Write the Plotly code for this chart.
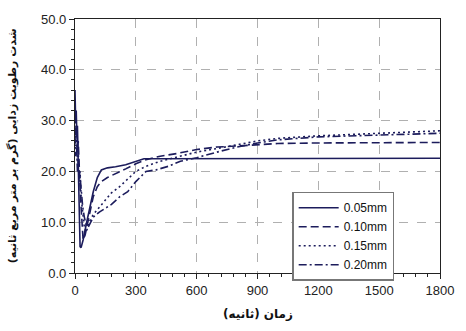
import plotly.graph_objects as go

# ---- data ----
labels = ["0.05mm", "0.10mm", "0.15mm", "0.20mm"]

t_005 = [0, 3, 6, 9, 12, 15, 18, 21, 25, 30, 40, 55, 70, 90, 110, 130, 160, 200, 250, 300, 340, 400, 600, 900, 1200, 1500, 1800]
y_005 = [36, 30, 32, 27, 29, 24, 20, 12, 5.2, 5.0, 6.5, 9.5, 12.5, 16, 18.8, 20.3, 20.7, 20.9, 21.3, 22.0, 22.5, 22.5, 22.5, 22.6, 22.6, 22.6, 22.6]

t_010 = [0, 4, 8, 12, 16, 20, 25, 30, 35, 40, 50, 60, 75, 90, 110, 130, 160, 200, 250, 300, 350, 420, 500, 600, 700, 800, 900, 1000, 1200, 1500, 1800]
y_010 = [31, 27, 29, 24, 26, 20, 17, 13, 9, 6.5, 7.5, 9.5, 12.5, 15, 17, 18, 18.8, 19.5, 20.5, 21.5, 22.3, 23, 23.5, 24.3, 24.8, 25.0, 25.3, 25.5, 25.6, 25.7, 25.7]

t_015 = [0, 4, 8, 12, 16, 20, 25, 30, 38, 46, 55, 70, 90, 120, 150, 180, 220, 260, 300, 350, 420, 500, 600, 700, 800, 900, 1000, 1200, 1500, 1800]
y_015 = [29, 25, 27, 22, 24, 19, 20, 15, 12, 9, 8, 10, 11.5, 13, 14.5, 15.8, 17, 18.5, 20, 21, 22, 22.8, 23.8, 24.5, 25.3, 26, 26.5, 27, 27.5, 28]

t_020 = [0, 4, 8, 12, 16, 20, 25, 30, 38, 46, 55, 65, 90, 120, 150, 180, 220, 260, 300, 350, 400, 460, 520, 600, 700, 800, 900, 1000, 1200, 1500, 1800]
y_020 = [27, 23, 25, 20, 22, 18, 19, 16, 13, 11, 9.5, 9, 11, 12, 12.8, 13.5, 15, 16, 18, 20, 20.3, 21, 22, 22.7, 23.8, 24.8, 25.6, 26.2, 26.8, 27.2, 27.5]

x_ticks = [0, 300, 600, 900, 1200, 1500, 1800]
y_ticks = [0, 10, 20, 30, 40, 50]
x_title = "زمان (ثانیه)"
y_title = "شدت رطوبت زدایی (گرم بر متر مربع ثانیه)"

series = [(t_005, y_005), (t_010, y_010), (t_015, y_015), (t_020, y_020)]
dashes = ["solid", "8px,4px", "2px,3px", "8px,3px,2px,3px"]
color = "#1c1c5c"

fig = go.Figure()
for (t, y), name, d in zip(series, labels, dashes):
    fig.add_trace(go.Scatter(x=t, y=y, mode="lines", name=name,
                             line=dict(color=color, width=1.6, dash=d)))

axis_common = dict(showline=True, linecolor="#222", linewidth=1.2, mirror=True,
                   ticks="outside", ticklen=5, tickcolor="#222",
                   showgrid=True, gridcolor="#b0b0b0", griddash="dash", gridwidth=1,
                   zeroline=False,
                   tickfont=dict(family="Liberation Sans, Arial", size=13, color="#222"))

fig.update_xaxes(range=[0, 1800], tickvals=x_ticks, ticktext=[str(v) for v in x_ticks],
                 minor=dict(dtick=60, ticks="outside", ticklen=3, tickcolor="#222", showgrid=False),
                 **axis_common)
fig.update_yaxes(range=[0, 50], tickvals=y_ticks, ticktext=[f"{v:.1f}" for v in y_ticks],
                 minor=dict(dtick=2, ticks="outside", ticklen=3, tickcolor="#222", showgrid=False),
                 **axis_common)

fig.add_annotation(text="<b>" + x_title + "</b>", xref="paper", yref="paper",
                   x=0.5, y=-0.125, xanchor="center", yanchor="top", showarrow=False,
                   font=dict(family="DejaVu Sans", size=12, color="#111"))
fig.add_annotation(text="<b>" + y_title + "</b>", xref="paper", yref="paper",
                   x=-0.172, y=0.5, xanchor="center", yanchor="middle", showarrow=False,
                   textangle=-90,
                   font=dict(family="DejaVu Sans", size=11, color="#111"))

fig.update_layout(
    width=466, height=331,
    margin=dict(l=75, r=18, t=16, b=58),
    paper_bgcolor="white", plot_bgcolor="white",
    showlegend=True,
    legend=dict(x=0.595, y=0.32, xanchor="left", yanchor="top",
                bgcolor="white", bordercolor="#777", borderwidth=1.5,
                font=dict(family="Liberation Sans, Arial", size=12, color="#111"),
                tracegroupgap=0, itemwidth=40),
)

fig.write_html("out.html")
